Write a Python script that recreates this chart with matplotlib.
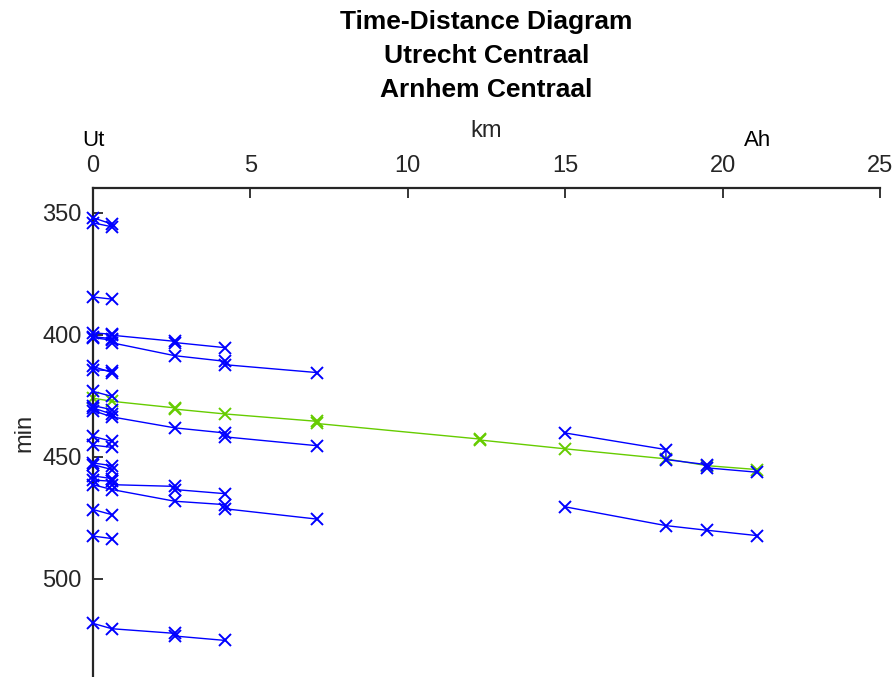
import matplotlib
matplotlib.use("Agg")
import matplotlib.pyplot as plt
import matplotlib.transforms as mtransforms

plt.rcParams['font.family'] = ['Liberation Sans', 'DejaVu Sans']

# station positions (km) and names shown on the top axis
station_km = [0, 21.1]
station_names = ["Ut", "Ah"]

# blue trains: km positions and times (min)
blue_km = [
    [0, 0.6],
    [0, 0.6],
    [0, 0.6],
    [0, 0.6, 0.6, 2.6, 2.6, 4.2],
    [0, 0.6, 0.6, 2.6, 4.2, 4.2, 7.1],
    [0, 0.6],
    [0, 0.6],
    [0, 0.6],
    [0, 0.6],
    [0, 0.6],
    [0, 0.6, 2.6, 4.2, 4.2, 7.1],
    [0, 0.6],
    [0, 0.6],
    [0, 0.6],
    [0, 0.6],
    [0, 0.6],
    [0, 0.6],
    [0, 0.6, 0.6, 2.6, 2.6, 4.2],
    [0, 0.6, 2.6, 4.2, 4.2, 7.1],
    [0, 0.6],
    [0, 0.6],
    [0, 0.6, 2.6, 2.6, 4.2],
    [15.0, 18.2, 18.2, 19.5, 19.5, 21.1],
    [15.0, 18.2, 19.5, 21.1],
]
blue_min = [
    [352.0, 354.6],
    [354.1, 355.7],
    [384.5, 385.4],
    [399.2, 399.8, 400.2, 402.7, 403.2, 405.3],
    [400.8, 401.6, 403.3, 408.6, 410.9, 412.3, 415.5],
    [401.2, 402.2],
    [413.0, 415.5],
    [414.3, 414.8],
    [423.2, 425.3],
    [429.1, 430.7],
    [431.1, 433.7, 438.2, 440.3, 441.9, 445.5],
    [430.0, 432.6],
    [441.7, 443.7],
    [445.3, 446.2],
    [452.6, 453.7],
    [453.3, 455.3],
    [457.9, 459.0],
    [459.6, 460.1, 461.5, 462.2, 463.5, 465.2],
    [461.5, 463.5, 468.3, 469.7, 471.4, 475.6],
    [471.7, 473.8],
    [482.6, 483.6],
    [518.4, 520.6, 522.5, 523.6, 525.4],
    [440.3, 447.1, 451.2, 453.3, 454.6, 456.4],
    [470.6, 478.3, 480.2, 482.4],
]

# green train (through service)
green_km = [0, 0.6, 2.6, 2.6, 4.2, 7.1, 7.1, 12.3, 12.3, 15.0, 18.2, 19.5, 21.1]
green_min = [426.0, 427.3, 430.0, 430.5, 432.5, 435.5, 436.4, 442.8, 443.2,
             446.8, 450.9, 453.7, 455.3]

fig = plt.figure(figsize=(8.95, 6.77), dpi=100)
ax = fig.add_axes([93 / 895, 0, 787 / 895, 489 / 677])

for km, t in zip(blue_km, blue_min):
    ax.plot(km, t, color="#0000ff", marker="x", markersize=8, lw=1, mew=1.4,
            clip_on=False, zorder=3)
ax.plot(green_km, green_min, color="#66cc00", marker="x", markersize=8, lw=1,
        mew=1.4, clip_on=False, zorder=2)

ax.set_xlim(0, 25)
ax.set_ylim(540.4, 339.8)
ax.set_xticks([0, 5, 10, 15, 20, 25])
ax.set_yticks([350, 400, 450, 500])
ax.xaxis.tick_top()
ax.xaxis.set_label_position("top")
ax.tick_params(direction="in", length=7, width=1.3, labelsize=17,
               colors="#262626", pad=8)
for s in ["right", "bottom"]:
    ax.spines[s].set_visible(False)
for s in ["top", "left"]:
    ax.spines[s].set_linewidth(1.6)
    ax.spines[s].set_color("#262626")

ax.set_xlabel("km", fontsize=17, color="#262626", labelpad=13)
ax.set_ylabel("min", fontsize=17, color="#262626", labelpad=5)

trans = mtransforms.blended_transform_factory(ax.transData, ax.transAxes)
for km, name in zip(station_km, station_names):
    ax.text(km, 1 + 48 / 489, name, transform=trans, ha="center", va="center",
            fontsize=16, color="black")

fig.text(486.5 / 895, 1 - 10 / 677,
         "Time-Distance Diagram\nUtrecht Centraal\nArnhem Centraal",
         ha="center", va="top", fontsize=19, fontweight="bold", linespacing=1.52)

fig.savefig("out.png", dpi=100)
